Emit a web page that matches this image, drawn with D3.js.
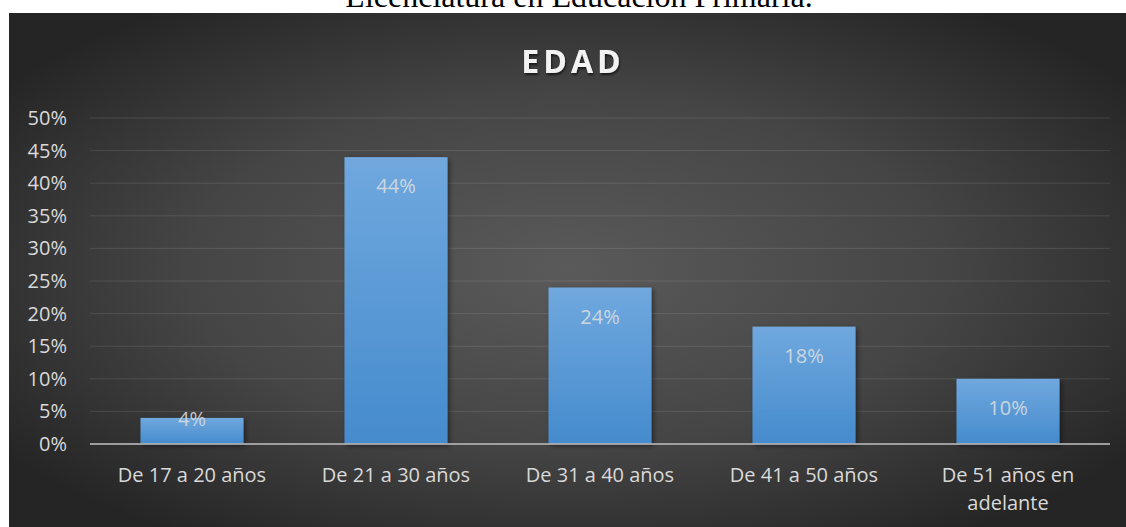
<!DOCTYPE html>
<html>
<head>
<meta charset="utf-8">
<script src="https://cdn.jsdelivr.net/npm/d3@7"></script>
<style>
  body { margin: 0; background: #fff; }
  svg { display: block; }
  .tick-label, .cat-label, .val-label { font-family: "Open Sans", sans-serif; font-size: 20px; }
</style>
</head>
<body>
<script>
// data
var categories = ["De 17 a 20 años", "De 21 a 30 años", "De 31 a 40 años", "De 41 a 50 años", "De 51 años en adelante"];
var values = [4, 44, 24, 18, 10];
var yTicks = [0, 5, 10, 15, 20, 25, 30, 35, 40, 45, 50];

var W = 1126, H = 527;
var margin = {top: 118, right: 16, bottom: 83, left: 90};

var svg = d3.select("body").append("svg")
    .attr("width", W)
    .attr("height", H);

var defs = svg.append("defs");

var bg = defs.append("radialGradient")
    .attr("id", "bg")
    .attr("cx", "0.5").attr("cy", "0.5").attr("r", "0.62");
bg.append("stop").attr("offset", "0").attr("stop-color", "#5a5a5a");
bg.append("stop").attr("offset", "0.55").attr("stop-color", "#454545");
bg.append("stop").attr("offset", "1").attr("stop-color", "#252525");

var barGrad = defs.append("linearGradient")
    .attr("id", "barGrad")
    .attr("x1", 0).attr("y1", 0).attr("x2", 0).attr("y2", 1);
barGrad.append("stop").attr("offset", "0").attr("stop-color", "#70a8de");
barGrad.append("stop").attr("offset", "1").attr("stop-color", "#458bcd");

var shadow = defs.append("filter").attr("id", "shadow")
    .attr("x", "-20%").attr("y", "-20%").attr("width", "140%").attr("height", "140%");
shadow.append("feDropShadow")
    .attr("dx", 2).attr("dy", 2).attr("stdDeviation", 2.5)
    .attr("flood-color", "#000").attr("flood-opacity", 0.45);

var tshadow = defs.append("filter").attr("id", "tshadow");
tshadow.append("feDropShadow")
    .attr("dx", 1).attr("dy", 2).attr("stdDeviation", 1.2)
    .attr("flood-color", "#000").attr("flood-opacity", 0.6);

// caption cut off at the top of the page
svg.append("text")
    .attr("x", 579)
    .attr("y", 7)
    .attr("text-anchor", "middle")
    .style("font-family", "'Liberation Serif', 'Times New Roman', serif")
    .style("font-size", "32px")
    .attr("fill", "#000")
    .text("Licenciatura en Educación Primaria.");

// chart area
svg.append("rect")
    .attr("x", 9).attr("y", 13)
    .attr("width", W - 9).attr("height", H - 13)
    .attr("fill", "url(#bg)");

var width = W - margin.left - margin.right,
    height = H - margin.top - margin.bottom;

var chart = svg.append("g")
    .attr("transform", "translate(" + margin.left + "," + margin.top + ")");

var x = d3.scaleBand()
    .domain(categories)
    .range([0, width])
    .paddingInner(0.495)
    .paddingOuter(0.2475);

var y = d3.scaleLinear()
    .domain([0, 50])
    .range([height, 0]);

// gridlines
chart.selectAll(".grid")
    .data(yTicks.filter(function(d) { return d > 0; }))
  .enter().append("line")
    .attr("class", "grid")
    .attr("x1", 0).attr("x2", width)
    .attr("y1", function(d) { return y(d); })
    .attr("y2", function(d) { return y(d); })
    .attr("stroke", "#fff")
    .attr("stroke-opacity", 0.11)
    .attr("stroke-width", 1);

// y tick labels
chart.selectAll(".tick-label")
    .data(yTicks)
  .enter().append("text")
    .attr("class", "tick-label")
    .attr("x", -23)
    .attr("y", function(d) { return y(d); })
    .attr("dy", "0.35em")
    .attr("text-anchor", "end")
    .attr("fill", "#d9d9d9")
    .text(function(d) { return d + "%"; });

// bars
chart.selectAll(".bar")
    .data(values)
  .enter().append("rect")
    .attr("class", "bar")
    .attr("x", function(d, i) { return x(categories[i]); })
    .attr("y", function(d) { return y(d); })
    .attr("width", x.bandwidth())
    .attr("height", function(d) { return height - y(d); })
    .attr("fill", "url(#barGrad)")
    .attr("filter", "url(#shadow)");

// axis line
chart.append("line")
    .attr("x1", 0).attr("x2", width)
    .attr("y1", y(0)).attr("y2", y(0))
    .attr("stroke", "#b0b0b0")
    .attr("stroke-opacity", 0.85)
    .attr("stroke-width", 2);

// value labels, inside end
chart.selectAll(".val-label")
    .data(values)
  .enter().append("text")
    .attr("class", "val-label")
    .attr("x", function(d, i) { return x(categories[i]) + x.bandwidth() / 2; })
    .attr("y", function(d) { return Math.min(y(d) + 36, y(0) - 18); })
    .attr("text-anchor", "middle")
    .attr("fill", "#e0e0e0")
    .attr("fill-opacity", 0.85)
    .text(function(d) { return d + "%"; });

// category labels, wrapped
var cats = chart.selectAll(".cat-label")
    .data(categories)
  .enter().append("text")
    .attr("class", "cat-label")
    .attr("x", function(d) { return x(d) + x.bandwidth() / 2; })
    .attr("y", y(0) + 38)
    .attr("text-anchor", "middle")
    .attr("fill", "#d9d9d9");

cats.each(function(d) {
  var t = d3.select(this);
  var words = d.split(" "), line = [], lineNo = 0;
  var tspan = t.append("tspan").attr("x", t.attr("x")).attr("dy", 0);
  words.forEach(function(w) {
    line.push(w);
    tspan.text(line.join(" "));
    if (tspan.node().getComputedTextLength() > 180 && line.length > 1) {
      line.pop();
      tspan.text(line.join(" "));
      line = [w];
      lineNo++;
      tspan = t.append("tspan").attr("x", t.attr("x")).attr("dy", 28).text(w);
    }
  });
});

// title
svg.append("text")
    .attr("x", 573)
    .attr("y", 73)
    .attr("text-anchor", "middle")
    .style("font-family", "'Open Sans', sans-serif")
    .style("font-size", "32px")
    .style("font-weight", "bold")
    .style("letter-spacing", "4px")
    .attr("fill", "#f2f2f2")
    .attr("filter", "url(#tshadow)")
    .text("EDAD");
</script>
</body>
</html>
